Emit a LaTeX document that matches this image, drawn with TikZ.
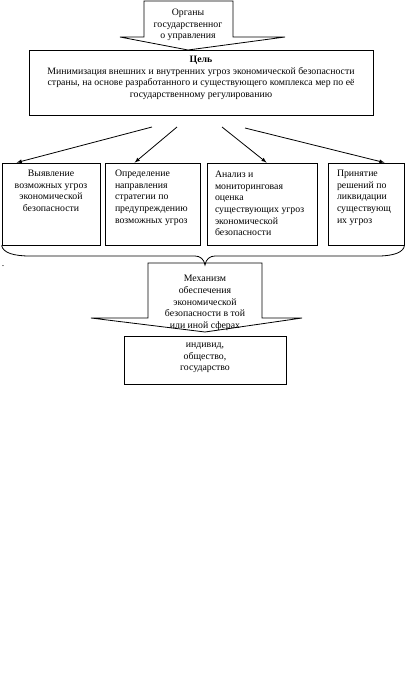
\documentclass[tikz,border=0pt]{standalone}
\usepackage{fontspec}
\setmainfont{Liberation Serif}
\usetikzlibrary{positioning,calc}

\begin{document}
\begin{tikzpicture}[x=1pt,y=-1pt,>=latex,line width=0.8pt,
  box/.style={draw,rectangle,inner sep=0pt},
  txt/.style={inner sep=0pt,font=\fontsize{9.8}{11.7}\selectfont}]
  \useasboundingbox (0,0) rectangle (407,673);
  % Callout arrow with the authorities.
  \draw (144,1) -- (233,1) -- (233,37) -- (285,37) -- (188,50)
    -- (120,37) -- (144,37) -- cycle;
  \node[txt,align=center] (organy) at (188,25) {Органы\\государственног\\о управления};
  % Goal box.
  \node[box,minimum width=344,minimum height=65] (goal) at (201,82.5) {};
  \node[txt,align=center,below=6pt of goal.north] (goaltext)
    {\textbf{Цель}\\Минимизация внешних и внутренних угроз экономической безопасности\\
     страны, на основе разработанного и существующего комплекса мер по её\\
     государственному регулированию};
  % The four tasks.
  \node[box,minimum width=98,minimum height=82] (b1) at (51,204) {};
  \node[box,minimum width=95,minimum height=82] (b2) at (152.5,204) {};
  \node[box,minimum width=110,minimum height=82] (b3) at (262,204) {};
  \node[box,minimum width=76,minimum height=82] (b4) at (366,204) {};
  \node[txt,align=center,below=7pt of b1.north] (t1)
    {Выявление\\возможных угроз\\экономической\\безопасности};
  \node[txt,align=left,anchor=north west] (t2) at ($(b2.north west)+(10,7)$)
    {Определение\\направления\\стратегии по\\предупреждению\\возможных угроз};
  \node[txt,align=left,anchor=north west] (t3) at ($(b3.north west)+(8,8)$)
    {Анализ и\\мониторинговая\\оценка\\существующих угроз\\экономической\\безопасности};
  \node[txt,align=left,anchor=north west] (t4) at ($(b4.north west)+(9,7)$)
    {Принятие\\решений по\\ликвидации\\существующ\\их угроз};
  % Arrows from the goal.
  \coordinate (s1) at (152,127);
  \coordinate (s2) at (177,127);
  \coordinate (s3) at (222,127);
  \coordinate (s4) at (245,128);
  \draw[->] (s1) -- ($(b1.north west)+(15,0)$);
  \draw[->] (s2) -- ($(b2.north west)+(30,0)$);
  \draw[->] (s3) -- ($(b3.north west)+(60,0)$);
  \draw[->] (s4) -- ($(b4.north west)+(57,0)$);
  % Brace under the tasks.
  \draw (b1.south west) .. controls (3,253) and (14,256) .. (30,256) -- (195,256)
    .. controls (200,256) and (204,259) .. (205,265)
    .. controls (206,259) and (210,256) .. (215,256) -- (378,256)
    .. controls (394,256) and (404,252) .. (b4.south east);
  \node[txt] (dot) at (3,266) {.};
  % Callout arrow with the mechanism.
  \draw (148,263) -- (262,263) -- (262,318) -- (302,318) -- (205,332)
    -- (91,318) -- (148,318) -- cycle;
  \node[txt,align=center] (mech) at (205,303)
    {Механизм\\обеспечения\\экономической\\безопасности в той\\или иной сферах};
  % Subjects.
  \node[box,minimum width=162,minimum height=48] (subj) at (205,360) {};
  \node[txt,align=center] (subjtext) at (205,358) {индивид,\\общество,\\государство};
\end{tikzpicture}
\end{document}
